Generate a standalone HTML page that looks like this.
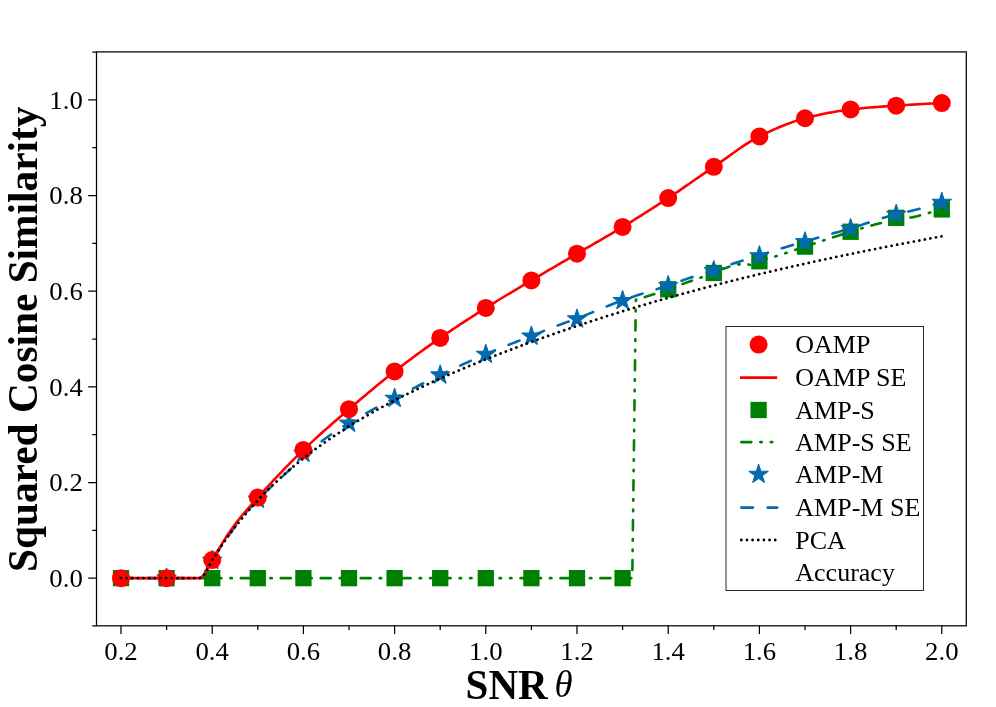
<!DOCTYPE html>
<html><head><meta charset="utf-8"><title>chart</title>
<style>html,body{margin:0;padding:0;background:#fff;overflow:hidden;}svg{display:block;position:absolute;left:0;top:0;will-change:transform;}text{font-family:"Liberation Serif",serif;fill:#000;}</style></head><body>
<svg width="996" height="707" viewBox="0 0 996 707">
<rect x="0" y="0" width="996" height="707" fill="#fff"/>
<defs><clipPath id="c"><rect x="96.5" y="51.9" width="869.8" height="573.9"/></clipPath></defs>
<g clip-path="url(#c)">
<rect x="112.85" y="570.00" width="16.3" height="16.3" fill="#008000"/>
<rect x="158.45" y="570.00" width="16.3" height="16.3" fill="#008000"/>
<rect x="204.05" y="570.00" width="16.3" height="16.3" fill="#008000"/>
<rect x="249.65" y="570.00" width="16.3" height="16.3" fill="#008000"/>
<rect x="295.25" y="570.00" width="16.3" height="16.3" fill="#008000"/>
<rect x="340.85" y="570.00" width="16.3" height="16.3" fill="#008000"/>
<rect x="386.45" y="570.00" width="16.3" height="16.3" fill="#008000"/>
<rect x="432.05" y="570.00" width="16.3" height="16.3" fill="#008000"/>
<rect x="477.65" y="570.00" width="16.3" height="16.3" fill="#008000"/>
<rect x="523.25" y="570.00" width="16.3" height="16.3" fill="#008000"/>
<rect x="568.85" y="570.00" width="16.3" height="16.3" fill="#008000"/>
<rect x="614.45" y="570.00" width="16.3" height="16.3" fill="#008000"/>
<rect x="660.05" y="281.14" width="16.3" height="16.3" fill="#008000"/>
<rect x="705.65" y="264.83" width="16.3" height="16.3" fill="#008000"/>
<rect x="751.25" y="253.11" width="16.3" height="16.3" fill="#008000"/>
<rect x="796.85" y="238.43" width="16.3" height="16.3" fill="#008000"/>
<rect x="842.45" y="223.60" width="16.3" height="16.3" fill="#008000"/>
<rect x="888.05" y="209.69" width="16.3" height="16.3" fill="#008000"/>
<rect x="933.65" y="201.27" width="16.3" height="16.3" fill="#008000"/>
<path d="M121.00,578.15 L632.27,578.15 L635.82,299.81 L637.36,299.36 L638.90,298.90 L640.44,298.44 L641.97,297.98 L643.51,297.51 L645.05,297.03 L646.59,296.55 L648.12,296.07 L649.66,295.58 L651.20,295.08 L652.74,294.58 L654.27,294.07 L655.81,293.56 L657.35,293.04 L658.89,292.52 L660.43,292.00 L661.96,291.47 L663.50,290.93 L665.04,290.40 L666.58,289.86 L668.11,289.32 L669.65,288.77 L671.19,288.22 L672.73,287.66 L674.26,287.09 L675.80,286.52 L677.34,285.95 L678.88,285.38 L680.41,284.80 L681.95,284.23 L683.49,283.66 L685.03,283.10 L686.56,282.54 L688.10,281.99 L689.64,281.45 L691.18,280.91 L692.71,280.39 L694.25,279.87 L695.79,279.35 L697.33,278.84 L698.86,278.32 L700.40,277.80 L701.94,277.28 L703.48,276.76 L705.01,276.23 L706.55,275.69 L708.09,275.14 L709.63,274.58 L711.16,274.00 L712.70,273.41 L714.24,272.80 L715.78,272.13 L717.32,271.41 L718.85,270.67 L720.39,269.97 L721.93,269.33 L723.47,268.77 L725.00,268.22 L726.54,267.66 L728.08,267.10 L729.62,266.55 L731.15,266.03 L732.69,265.55 L734.23,265.13 L735.77,264.79 L737.30,264.53 L738.84,264.37 L740.38,264.32 L741.92,264.32 L743.45,264.32 L744.99,264.32 L746.53,264.32 L748.07,264.32 L749.60,264.73 L751.14,265.95 L752.68,265.91 L754.22,265.08 L755.75,263.87 L757.29,262.57 L758.83,261.50 L760.37,260.82 L761.90,260.24 L763.44,259.72 L764.98,259.25 L766.52,258.82 L768.05,258.40 L769.59,258.00 L771.13,257.61 L772.67,257.20 L774.21,256.77 L775.74,256.31 L777.28,255.83 L778.82,255.34 L780.36,254.84 L781.89,254.34 L783.43,253.83 L784.97,253.33 L786.51,252.82 L788.04,252.31 L789.58,251.79 L791.12,251.27 L792.66,250.75 L794.19,250.23 L795.73,249.71 L797.27,249.18 L798.81,248.66 L800.34,248.14 L801.88,247.62 L803.42,247.11 L804.96,246.59 L806.49,246.08 L808.03,245.57 L809.57,245.06 L811.11,244.55 L812.64,244.04 L814.18,243.53 L815.72,243.02 L817.26,242.51 L818.79,242.00 L820.33,241.49 L821.87,240.98 L823.41,240.47 L824.94,239.97 L826.48,239.46 L828.02,238.96 L829.56,238.46 L831.10,237.95 L832.63,237.45 L834.17,236.95 L835.71,236.46 L837.25,235.96 L838.78,235.47 L840.32,234.98 L841.86,234.49 L843.40,234.00 L844.93,233.52 L846.47,233.04 L848.01,232.56 L849.55,232.08 L851.08,231.60 L852.62,231.13 L854.16,230.65 L855.70,230.17 L857.23,229.70 L858.77,229.22 L860.31,228.75 L861.85,228.28 L863.38,227.81 L864.92,227.35 L866.46,226.89 L868.00,226.44 L869.53,226.00 L871.07,225.57 L872.61,225.15 L874.15,224.74 L875.68,224.34 L877.22,223.95 L878.76,223.56 L880.30,223.18 L881.83,222.80 L883.37,222.43 L884.91,222.07 L886.45,221.72 L887.99,221.37 L889.52,221.04 L891.06,220.71 L892.60,220.39 L894.14,220.09 L895.67,219.80 L897.21,219.52 L898.75,219.27 L900.29,219.04 L901.82,218.81 L903.36,218.60 L904.90,218.39 L906.44,218.18 L907.97,217.95 L909.51,217.72 L911.05,217.47 L912.59,217.19 L914.12,216.88 L915.66,216.54 L917.20,216.15 L918.74,215.75 L920.27,215.32 L921.81,214.89 L923.35,214.45 L924.89,214.01 L926.42,213.60 L927.96,213.19 L929.50,212.80 L931.04,212.40 L932.57,212.00 L934.11,211.61 L935.65,211.22 L937.19,210.83 L938.72,210.44 L940.26,210.05 L941.80,209.66" fill="none" stroke="#008000" stroke-width="2.6" stroke-linecap="round" stroke-linejoin="round" stroke-dasharray="10 8.98 1.5 8.98 1.5 8.99"/>
<polygon points="166.60,567.95 168.89,575.00 176.30,575.00 170.31,579.35 172.60,586.40 166.60,582.05 160.60,586.40 162.89,579.35 156.90,575.00 164.31,575.00" fill="#036aae" stroke="#036aae" stroke-width="1.04" stroke-linejoin="bevel"/>
<polygon points="212.20,550.25 214.49,557.30 221.90,557.30 215.91,561.66 218.20,568.71 212.20,564.35 206.20,568.71 208.49,561.66 202.50,557.30 209.91,557.30" fill="#036aae" stroke="#036aae" stroke-width="1.04" stroke-linejoin="bevel"/>
<polygon points="257.80,489.04 260.09,496.09 267.50,496.09 261.51,500.44 263.80,507.49 257.80,503.13 251.80,507.49 254.09,500.44 248.10,496.09 255.51,496.09" fill="#036aae" stroke="#036aae" stroke-width="1.04" stroke-linejoin="bevel"/>
<polygon points="303.40,443.13 305.69,450.17 313.10,450.17 307.11,454.53 309.40,461.58 303.40,457.22 297.40,461.58 299.69,454.53 293.70,450.17 301.11,450.17" fill="#036aae" stroke="#036aae" stroke-width="1.04" stroke-linejoin="bevel"/>
<polygon points="349.00,413.09 351.29,420.14 358.70,420.14 352.71,424.50 355.00,431.54 349.00,427.19 343.00,431.54 345.29,424.50 339.30,420.14 346.71,420.14" fill="#036aae" stroke="#036aae" stroke-width="1.04" stroke-linejoin="bevel"/>
<polygon points="394.60,388.13 396.89,395.18 404.30,395.18 398.31,399.53 400.60,406.58 394.60,402.22 388.60,406.58 390.89,399.53 384.90,395.18 392.31,395.18" fill="#036aae" stroke="#036aae" stroke-width="1.04" stroke-linejoin="bevel"/>
<polygon points="440.20,364.84 442.49,371.89 449.90,371.89 443.91,376.24 446.20,383.29 440.20,378.93 434.20,383.29 436.49,376.24 430.50,371.89 437.91,371.89" fill="#036aae" stroke="#036aae" stroke-width="1.04" stroke-linejoin="bevel"/>
<polygon points="485.80,344.13 488.09,351.18 495.50,351.18 489.51,355.53 491.80,362.58 485.80,358.23 479.80,362.58 482.09,355.53 476.10,351.18 483.51,351.18" fill="#036aae" stroke="#036aae" stroke-width="1.04" stroke-linejoin="bevel"/>
<polygon points="531.40,326.00 533.69,333.05 541.10,333.05 535.11,337.41 537.40,344.46 531.40,340.10 525.40,344.46 527.69,337.41 521.70,333.05 529.11,333.05" fill="#036aae" stroke="#036aae" stroke-width="1.04" stroke-linejoin="bevel"/>
<polygon points="577.00,308.79 579.29,315.83 586.70,315.83 580.71,320.19 583.00,327.24 577.00,322.88 571.00,327.24 573.29,320.19 567.30,315.83 574.71,315.83" fill="#036aae" stroke="#036aae" stroke-width="1.04" stroke-linejoin="bevel"/>
<polygon points="622.60,290.37 624.89,297.42 632.30,297.42 626.31,301.78 628.60,308.83 622.60,304.47 616.60,308.83 618.89,301.78 612.90,297.42 620.31,297.42" fill="#036aae" stroke="#036aae" stroke-width="1.04" stroke-linejoin="bevel"/>
<polygon points="668.20,275.40 670.49,282.45 677.90,282.45 671.91,286.81 674.20,293.86 668.20,289.50 662.20,293.86 664.49,286.81 658.50,282.45 665.91,282.45" fill="#036aae" stroke="#036aae" stroke-width="1.04" stroke-linejoin="bevel"/>
<polygon points="713.80,260.44 716.09,267.48 723.50,267.48 717.51,271.84 719.80,278.89 713.80,274.53 707.80,278.89 710.09,271.84 704.10,267.48 711.51,267.48" fill="#036aae" stroke="#036aae" stroke-width="1.04" stroke-linejoin="bevel"/>
<polygon points="759.40,245.61 761.69,252.66 769.10,252.66 763.11,257.01 765.40,264.06 759.40,259.71 753.40,264.06 755.69,257.01 749.70,252.66 757.11,252.66" fill="#036aae" stroke="#036aae" stroke-width="1.04" stroke-linejoin="bevel"/>
<polygon points="805.00,231.64 807.29,238.69 814.70,238.69 808.71,243.05 811.00,250.10 805.00,245.74 799.00,250.10 801.29,243.05 795.30,238.69 802.71,238.69" fill="#036aae" stroke="#036aae" stroke-width="1.04" stroke-linejoin="bevel"/>
<polygon points="850.60,218.40 852.89,225.45 860.30,225.45 854.31,229.80 856.60,236.85 850.60,232.49 844.60,236.85 846.89,229.80 840.90,225.45 848.31,225.45" fill="#036aae" stroke="#036aae" stroke-width="1.04" stroke-linejoin="bevel"/>
<polygon points="896.20,204.24 898.49,211.29 905.90,211.29 899.91,215.64 902.20,222.69 896.20,218.34 890.20,222.69 892.49,215.64 886.50,211.29 893.91,211.29" fill="#036aae" stroke="#036aae" stroke-width="1.04" stroke-linejoin="bevel"/>
<polygon points="941.80,192.28 944.09,199.33 951.50,199.33 945.51,203.69 947.80,210.74 941.80,206.38 935.80,210.74 938.09,203.69 932.10,199.33 939.51,199.33" fill="#036aae" stroke="#036aae" stroke-width="1.04" stroke-linejoin="bevel"/>
<path d="M121.00,578.15 L199.43,578.15 L201.91,577.14 L204.40,574.34 L206.88,569.85 L209.36,565.38 L211.85,561.04 L214.33,557.00 L216.81,553.08 L219.29,549.26 L221.78,545.52 L224.26,541.87 L226.74,538.27 L229.23,534.74 L231.71,531.24 L234.19,527.76 L236.67,524.33 L239.16,520.98 L241.64,517.74 L244.12,514.64 L246.61,511.71 L249.09,508.93 L251.57,506.26 L254.05,503.68 L256.54,501.16 L259.02,498.68 L261.50,496.19 L263.99,493.74 L266.47,491.34 L268.95,488.97 L271.43,486.62 L273.92,484.29 L276.40,481.97 L278.88,479.67 L281.37,477.39 L283.85,475.13 L286.33,472.86 L288.81,470.55 L291.30,468.21 L293.78,465.85 L296.26,463.49 L298.75,461.16 L301.23,458.87 L303.71,456.64 L306.19,454.44 L308.68,452.24 L311.16,450.07 L313.64,447.93 L316.13,445.82 L318.61,443.76 L321.09,441.76 L323.57,439.83 L326.06,437.98 L328.54,436.20 L331.02,434.46 L333.51,432.77 L335.99,431.12 L338.47,429.51 L340.95,427.93 L343.44,426.37 L345.92,424.84 L348.40,423.32 L350.89,421.82 L353.37,420.36 L355.85,418.93 L358.33,417.52 L360.82,416.13 L363.30,414.76 L365.78,413.39 L368.26,412.03 L370.75,410.68 L373.23,409.33 L375.71,408.00 L378.20,406.67 L380.68,405.36 L383.16,404.05 L385.64,402.75 L388.13,401.45 L390.61,400.16 L393.09,398.87 L395.58,397.58 L398.06,396.29 L400.54,395.00 L403.02,393.71 L405.51,392.42 L407.99,391.13 L410.47,389.85 L412.96,388.57 L415.44,387.29 L417.92,386.02 L420.40,384.75 L422.89,383.48 L425.37,382.23 L427.85,380.98 L430.34,379.74 L432.82,378.50 L435.30,377.28 L437.78,376.07 L440.27,374.86 L442.75,373.67 L445.23,372.49 L447.72,371.33 L450.20,370.17 L452.68,369.03 L455.16,367.89 L457.65,366.75 L460.13,365.62 L462.61,364.49 L465.10,363.36 L467.58,362.23 L470.06,361.09 L472.54,359.96 L475.03,358.83 L477.51,357.72 L479.99,356.61 L482.48,355.52 L484.96,354.45 L487.44,353.40 L489.92,352.36 L492.41,351.33 L494.89,350.31 L497.37,349.30 L499.86,348.30 L502.34,347.31 L504.82,346.33 L507.30,345.35 L509.79,344.37 L512.27,343.40 L514.75,342.43 L517.24,341.46 L519.72,340.49 L522.20,339.53 L524.68,338.56 L527.17,337.58 L529.65,336.61 L532.13,335.63 L534.61,334.64 L537.10,333.65 L539.58,332.66 L542.06,331.67 L544.55,330.68 L547.03,329.70 L549.51,328.72 L551.99,327.74 L554.48,326.77 L556.96,325.81 L559.44,324.86 L561.93,323.92 L564.41,323.00 L566.89,322.10 L569.37,321.22 L571.86,320.34 L574.34,319.44 L576.82,318.53 L579.31,317.58 L581.79,316.62 L584.27,315.64 L586.75,314.64 L589.24,313.64 L591.72,312.62 L594.20,311.60 L596.69,310.57 L599.17,309.54 L601.65,308.51 L604.13,307.49 L606.62,306.47 L609.10,305.47 L611.58,304.47 L614.07,303.50 L616.55,302.54 L619.03,301.60 L621.51,300.68 L624.00,299.79 L626.48,298.92 L628.96,298.06 L631.45,297.22 L633.93,296.40 L636.41,295.59 L638.89,294.78 L641.38,293.99 L643.86,293.20 L646.34,292.41 L648.83,291.63 L651.31,290.84 L653.79,290.06 L656.27,289.27 L658.76,288.47 L661.24,287.67 L663.72,286.86 L666.21,286.04 L668.69,285.20 L671.17,284.35 L673.65,283.48 L676.14,282.60 L678.62,281.72 L681.10,280.85 L683.59,279.99 L686.07,279.14 L688.55,278.31 L691.03,277.50 L693.52,276.70 L696.00,275.91 L698.48,275.13 L700.96,274.35 L703.45,273.57 L705.93,272.79 L708.41,272.00 L710.90,271.20 L713.38,270.39 L715.86,269.57 L718.34,268.72 L720.83,267.87 L723.31,267.01 L725.79,266.15 L728.28,265.30 L730.76,264.44 L733.24,263.60 L735.72,262.77 L738.21,261.96 L740.69,261.16 L743.17,260.38 L745.66,259.60 L748.14,258.83 L750.62,258.06 L753.10,257.29 L755.59,256.52 L758.07,255.75 L760.55,254.97 L763.04,254.18 L765.52,253.39 L768.00,252.60 L770.48,251.81 L772.97,251.02 L775.45,250.23 L777.93,249.44 L780.42,248.67 L782.90,247.90 L785.38,247.14 L787.86,246.39 L790.35,245.66 L792.83,244.94 L795.31,244.23 L797.80,243.52 L800.28,242.81 L802.76,242.10 L805.24,241.39 L807.73,240.68 L810.21,239.96 L812.69,239.25 L815.18,238.55 L817.66,237.84 L820.14,237.13 L822.62,236.42 L825.11,235.71 L827.59,235.00 L830.07,234.29 L832.56,233.58 L835.04,232.87 L837.52,232.15 L840.00,231.43 L842.49,230.71 L844.97,229.98 L847.45,229.25 L849.94,228.51 L852.42,227.76 L854.90,227.00 L857.38,226.22 L859.87,225.43 L862.35,224.62 L864.83,223.82 L867.31,223.00 L869.80,222.19 L872.28,221.38 L874.76,220.57 L877.25,219.77 L879.73,218.98 L882.21,218.20 L884.69,217.44 L887.18,216.70 L889.66,215.98 L892.14,215.28 L894.63,214.61 L897.11,213.97 L899.59,213.38 L902.07,212.83 L904.56,212.29 L907.04,211.76 L909.52,211.22 L912.01,210.65 L914.49,210.04 L916.97,209.41 L919.45,208.76 L921.94,208.10 L924.42,207.42 L926.90,206.73 L929.39,206.02 L931.87,205.30 L934.35,204.56 L936.83,203.80 L939.32,203.03 L941.80,202.25" fill="none" stroke="#036aae" stroke-width="2.6" stroke-linecap="round" stroke-linejoin="round" stroke-dasharray="11.6 14.75"/>
<circle cx="121.00" cy="578.15" r="9.0" fill="#ff0000"/>
<circle cx="166.60" cy="578.15" r="9.0" fill="#ff0000"/>
<circle cx="212.20" cy="560.07" r="9.0" fill="#ff0000"/>
<circle cx="257.80" cy="497.56" r="9.0" fill="#ff0000"/>
<circle cx="303.40" cy="449.98" r="9.0" fill="#ff0000"/>
<circle cx="349.00" cy="409.18" r="9.0" fill="#ff0000"/>
<circle cx="394.60" cy="371.45" r="9.0" fill="#ff0000"/>
<circle cx="440.20" cy="337.93" r="9.0" fill="#ff0000"/>
<circle cx="485.80" cy="307.94" r="9.0" fill="#ff0000"/>
<circle cx="531.40" cy="280.39" r="9.0" fill="#ff0000"/>
<circle cx="577.00" cy="253.66" r="9.0" fill="#ff0000"/>
<circle cx="622.60" cy="226.97" r="9.0" fill="#ff0000"/>
<circle cx="668.20" cy="198.04" r="9.0" fill="#ff0000"/>
<circle cx="713.80" cy="166.81" r="9.0" fill="#ff0000"/>
<circle cx="759.40" cy="136.44" r="9.0" fill="#ff0000"/>
<circle cx="805.00" cy="118.26" r="9.0" fill="#ff0000"/>
<circle cx="850.60" cy="109.46" r="9.0" fill="#ff0000"/>
<circle cx="896.20" cy="105.64" r="9.0" fill="#ff0000"/>
<circle cx="941.80" cy="103.10" r="9.0" fill="#ff0000"/>
<path d="M121.00,578.15 L199.43,578.15 L201.91,577.14 L204.40,574.34 L206.88,569.80 L209.36,565.20 L211.85,560.68 L214.33,556.45 L216.81,552.27 L219.29,548.16 L221.78,544.11 L224.26,540.16 L226.74,536.32 L229.23,532.59 L231.71,528.99 L234.19,525.55 L236.67,522.25 L239.16,519.08 L241.64,516.01 L244.12,513.04 L246.61,510.15 L249.09,507.31 L251.57,504.51 L254.05,501.74 L256.54,498.97 L259.02,496.20 L261.50,493.45 L263.99,490.71 L266.47,488.00 L268.95,485.30 L271.43,482.62 L273.92,479.96 L276.40,477.32 L278.88,474.70 L281.37,472.10 L283.85,469.52 L286.33,466.96 L288.81,464.43 L291.30,461.91 L293.78,459.42 L296.26,456.95 L298.75,454.50 L301.23,452.08 L303.71,449.68 L306.19,447.30 L308.68,444.96 L311.16,442.63 L313.64,440.33 L316.13,438.05 L318.61,435.79 L321.09,433.55 L323.57,431.33 L326.06,429.12 L328.54,426.92 L331.02,424.74 L333.51,422.57 L335.99,420.41 L338.47,418.26 L340.95,416.11 L343.44,413.97 L345.92,411.83 L348.40,409.70 L350.89,407.56 L353.37,405.44 L355.85,403.31 L358.33,401.20 L360.82,399.09 L363.30,396.98 L365.78,394.89 L368.26,392.81 L370.75,390.73 L373.23,388.67 L375.71,386.61 L378.20,384.57 L380.68,382.55 L383.16,380.53 L385.64,378.53 L388.13,376.55 L390.61,374.58 L393.09,372.63 L395.58,370.69 L398.06,368.77 L400.54,366.86 L403.02,364.96 L405.51,363.08 L407.99,361.20 L410.47,359.34 L412.96,357.49 L415.44,355.65 L417.92,353.82 L420.40,352.01 L422.89,350.20 L425.37,348.41 L427.85,346.63 L430.34,344.86 L432.82,343.10 L435.30,341.35 L437.78,339.61 L440.27,337.88 L442.75,336.16 L445.23,334.46 L447.72,332.76 L450.20,331.08 L452.68,329.41 L455.16,327.75 L457.65,326.09 L460.13,324.45 L462.61,322.82 L465.10,321.19 L467.58,319.58 L470.06,317.97 L472.54,316.37 L475.03,314.78 L477.51,313.19 L479.99,311.61 L482.48,310.04 L484.96,308.47 L487.44,306.91 L489.92,305.36 L492.41,303.82 L494.89,302.29 L497.37,300.76 L499.86,299.25 L502.34,297.74 L504.82,296.24 L507.30,294.75 L509.79,293.26 L512.27,291.77 L514.75,290.29 L517.24,288.81 L519.72,287.33 L522.20,285.86 L524.68,284.38 L527.17,282.91 L529.65,281.43 L532.13,279.96 L534.61,278.48 L537.10,277.01 L539.58,275.55 L542.06,274.08 L544.55,272.62 L547.03,271.17 L549.51,269.71 L551.99,268.26 L554.48,266.81 L556.96,265.36 L559.44,263.91 L561.93,262.46 L564.41,261.01 L566.89,259.57 L569.37,258.12 L571.86,256.67 L574.34,255.21 L576.82,253.76 L579.31,252.31 L581.79,250.86 L584.27,249.42 L586.75,247.98 L589.24,246.55 L591.72,245.12 L594.20,243.68 L596.69,242.25 L599.17,240.81 L601.65,239.37 L604.13,237.93 L606.62,236.48 L609.10,235.03 L611.58,233.57 L614.07,232.10 L616.55,230.62 L619.03,229.13 L621.51,227.63 L624.00,226.12 L626.48,224.60 L628.96,223.07 L631.45,221.54 L633.93,220.00 L636.41,218.45 L638.89,216.90 L641.38,215.33 L643.86,213.76 L646.34,212.19 L648.83,210.61 L651.31,209.02 L653.79,207.42 L656.27,205.82 L658.76,204.21 L661.24,202.60 L663.72,200.98 L666.21,199.35 L668.69,197.72 L671.17,196.07 L673.65,194.41 L676.14,192.73 L678.62,191.05 L681.10,189.35 L683.59,187.64 L686.07,185.93 L688.55,184.21 L691.03,182.49 L693.52,180.77 L696.00,179.05 L698.48,177.32 L700.96,175.60 L703.45,173.89 L705.93,172.17 L708.41,170.47 L710.90,168.78 L713.38,167.09 L715.86,165.40 L718.34,163.68 L720.83,161.93 L723.31,160.16 L725.79,158.37 L728.28,156.58 L730.76,154.79 L733.24,153.00 L735.72,151.23 L738.21,149.49 L740.69,147.77 L743.17,146.08 L745.66,144.44 L748.14,142.85 L750.62,141.31 L753.10,139.84 L755.59,138.44 L758.07,137.11 L760.55,135.87 L763.04,134.64 L765.52,133.44 L768.00,132.26 L770.48,131.10 L772.97,129.97 L775.45,128.86 L777.93,127.78 L780.42,126.73 L782.90,125.71 L785.38,124.72 L787.86,123.77 L790.35,122.85 L792.83,121.97 L795.31,121.13 L797.80,120.33 L800.28,119.58 L802.76,118.87 L805.24,118.20 L807.73,117.57 L810.21,116.95 L812.69,116.34 L815.18,115.76 L817.66,115.19 L820.14,114.63 L822.62,114.10 L825.11,113.59 L827.59,113.09 L830.07,112.61 L832.56,112.16 L835.04,111.72 L837.52,111.30 L840.00,110.91 L842.49,110.53 L844.97,110.18 L847.45,109.85 L849.94,109.54 L852.42,109.26 L854.90,108.98 L857.38,108.72 L859.87,108.47 L862.35,108.23 L864.83,108.00 L867.31,107.77 L869.80,107.56 L872.28,107.36 L874.76,107.16 L877.25,106.97 L879.73,106.78 L882.21,106.60 L884.69,106.42 L887.18,106.25 L889.66,106.08 L892.14,105.91 L894.63,105.74 L897.11,105.58 L899.59,105.41 L902.07,105.25 L904.56,105.09 L907.04,104.94 L909.52,104.78 L912.01,104.63 L914.49,104.49 L916.97,104.34 L919.45,104.20 L921.94,104.06 L924.42,103.93 L926.90,103.80 L929.39,103.67 L931.87,103.55 L934.35,103.43 L936.83,103.32 L939.32,103.21 L941.80,103.10" fill="none" stroke="#ff0000" stroke-width="2.6" stroke-linecap="butt" stroke-linejoin="round"/>
<path d="M121.00,578.15 L199.43,578.15 L201.91,577.14 L204.40,574.34 L206.88,569.85 L209.36,565.38 L211.85,561.04 L214.33,556.99 L216.81,553.05 L219.29,549.19 L221.78,545.43 L224.26,541.76 L226.74,538.18 L229.23,534.69 L231.71,531.30 L234.19,528.05 L236.67,524.92 L239.16,521.85 L241.64,518.81 L244.12,515.83 L246.61,512.91 L249.09,510.04 L251.57,507.22 L254.05,504.45 L256.54,501.74 L259.02,499.07 L261.50,496.45 L263.99,493.88 L266.47,491.35 L268.95,488.87 L271.43,486.43 L273.92,484.03 L276.40,481.67 L278.88,479.36 L281.37,477.08 L283.85,474.83 L286.33,472.63 L288.81,470.46 L291.30,468.32 L293.78,466.22 L296.26,464.15 L298.75,462.11 L301.23,460.10 L303.71,458.12 L306.19,456.17 L308.68,454.25 L311.16,452.36 L313.64,450.49 L316.13,448.65 L318.61,446.83 L321.09,445.04 L323.57,443.27 L326.06,441.52 L328.54,439.80 L331.02,438.10 L333.51,436.41 L335.99,434.75 L338.47,433.11 L340.95,431.49 L343.44,429.89 L345.92,428.30 L348.40,426.74 L350.89,425.19 L353.37,423.66 L355.85,422.14 L358.33,420.64 L360.82,419.16 L363.30,417.69 L365.78,416.24 L368.26,414.81 L370.75,413.38 L373.23,411.98 L375.71,410.58 L378.20,409.20 L380.68,407.84 L383.16,406.49 L385.64,405.15 L388.13,403.82 L390.61,402.51 L393.09,401.21 L395.58,399.92 L398.06,398.64 L400.54,397.37 L403.02,396.12 L405.51,394.87 L407.99,393.64 L410.47,392.42 L412.96,391.20 L415.44,390.00 L417.92,388.81 L420.40,387.63 L422.89,386.45 L425.37,385.29 L427.85,384.13 L430.34,382.99 L432.82,381.85 L435.30,380.72 L437.78,379.60 L440.27,378.49 L442.75,377.38 L445.23,376.28 L447.72,375.19 L450.20,374.11 L452.68,373.04 L455.16,371.97 L457.65,370.91 L460.13,369.85 L462.61,368.80 L465.10,367.76 L467.58,366.72 L470.06,365.70 L472.54,364.67 L475.03,363.65 L477.51,362.64 L479.99,361.64 L482.48,360.64 L484.96,359.64 L487.44,358.65 L489.92,357.67 L492.41,356.69 L494.89,355.71 L497.37,354.74 L499.86,353.78 L502.34,352.82 L504.82,351.87 L507.30,350.92 L509.79,349.97 L512.27,349.03 L514.75,348.09 L517.24,347.16 L519.72,346.23 L522.20,345.31 L524.68,344.39 L527.17,343.47 L529.65,342.56 L532.13,341.65 L534.61,340.75 L537.10,339.85 L539.58,338.96 L542.06,338.07 L544.55,337.18 L547.03,336.30 L549.51,335.42 L551.99,334.54 L554.48,333.67 L556.96,332.81 L559.44,331.94 L561.93,331.09 L564.41,330.23 L566.89,329.38 L569.37,328.53 L571.86,327.69 L574.34,326.85 L576.82,326.01 L579.31,325.18 L581.79,324.36 L584.27,323.53 L586.75,322.71 L589.24,321.89 L591.72,321.08 L594.20,320.27 L596.69,319.47 L599.17,318.67 L601.65,317.87 L604.13,317.08 L606.62,316.29 L609.10,315.50 L611.58,314.72 L614.07,313.94 L616.55,313.16 L619.03,312.39 L621.51,311.62 L624.00,310.86 L626.48,310.10 L628.96,309.34 L631.45,308.59 L633.93,307.83 L636.41,307.09 L638.89,306.34 L641.38,305.60 L643.86,304.87 L646.34,304.14 L648.83,303.41 L651.31,302.68 L653.79,301.96 L656.27,301.24 L658.76,300.52 L661.24,299.81 L663.72,299.10 L666.21,298.39 L668.69,297.69 L671.17,296.99 L673.65,296.30 L676.14,295.60 L678.62,294.91 L681.10,294.23 L683.59,293.54 L686.07,292.86 L688.55,292.19 L691.03,291.51 L693.52,290.84 L696.00,290.18 L698.48,289.51 L700.96,288.85 L703.45,288.19 L705.93,287.54 L708.41,286.89 L710.90,286.24 L713.38,285.59 L715.86,284.95 L718.34,284.31 L720.83,283.67 L723.31,283.04 L725.79,282.40 L728.28,281.78 L730.76,281.15 L733.24,280.53 L735.72,279.91 L738.21,279.29 L740.69,278.68 L743.17,278.07 L745.66,277.46 L748.14,276.85 L750.62,276.25 L753.10,275.65 L755.59,275.05 L758.07,274.45 L760.55,273.86 L763.04,273.27 L765.52,272.69 L768.00,272.10 L770.48,271.52 L772.97,270.94 L775.45,270.36 L777.93,269.79 L780.42,269.22 L782.90,268.65 L785.38,268.08 L787.86,267.51 L790.35,266.95 L792.83,266.39 L795.31,265.83 L797.80,265.28 L800.28,264.73 L802.76,264.18 L805.24,263.63 L807.73,263.08 L810.21,262.54 L812.69,262.00 L815.18,261.46 L817.66,260.92 L820.14,260.39 L822.62,259.85 L825.11,259.32 L827.59,258.79 L830.07,258.27 L832.56,257.74 L835.04,257.22 L837.52,256.70 L840.00,256.18 L842.49,255.66 L844.97,255.15 L847.45,254.64 L849.94,254.13 L852.42,253.62 L854.90,253.11 L857.38,252.61 L859.87,252.10 L862.35,251.60 L864.83,251.10 L867.31,250.60 L869.80,250.11 L872.28,249.61 L874.76,249.12 L877.25,248.63 L879.73,248.14 L882.21,247.65 L884.69,247.16 L887.18,246.68 L889.66,246.20 L892.14,245.71 L894.63,245.23 L897.11,244.75 L899.59,244.28 L902.07,243.80 L904.56,243.33 L907.04,242.85 L909.52,242.38 L912.01,241.91 L914.49,241.44 L916.97,240.97 L919.45,240.51 L921.94,240.04 L924.42,239.58 L926.90,239.11 L929.39,238.65 L931.87,238.19 L934.35,237.73 L936.83,237.27 L939.32,236.81 L941.80,236.36" fill="none" stroke="#000000" stroke-width="2.8" stroke-linecap="round" stroke-linejoin="round" stroke-dasharray="0.01 5.6311"/>
</g>
<rect x="96.5" y="51.9" width="869.8" height="573.9" fill="none" stroke="#000" stroke-width="1.25"/>
<path d="M121.00,625.8 v8.3 M212.20,625.8 v8.3 M303.40,625.8 v8.3 M394.60,625.8 v8.3 M485.80,625.8 v8.3 M577.00,625.8 v8.3 M668.20,625.8 v8.3 M759.40,625.8 v8.3 M850.60,625.8 v8.3 M941.80,625.8 v8.3 M166.60,625.8 v4.2 M257.80,625.8 v4.2 M349.00,625.8 v4.2 M440.20,625.8 v4.2 M531.40,625.8 v4.2 M622.60,625.8 v4.2 M713.80,625.8 v4.2 M805.00,625.8 v4.2 M896.20,625.8 v4.2 M96.5,578.15 h-8.3 M96.5,482.50 h-8.3 M96.5,386.85 h-8.3 M96.5,291.20 h-8.3 M96.5,195.55 h-8.3 M96.5,99.90 h-8.3 M96.5,625.98 h-4.2 M96.5,530.32 h-4.2 M96.5,434.67 h-4.2 M96.5,339.02 h-4.2 M96.5,243.37 h-4.2 M96.5,147.72 h-4.2 M96.5,52.07 h-4.2" stroke="#000" stroke-width="1.25" fill="none"/>
<text transform="translate(121.00,660.00) scale(1.03,1.0)" font-size="26" text-anchor="middle" >0.2</text>
<text transform="translate(212.20,660.00) scale(1.03,1.0)" font-size="26" text-anchor="middle" >0.4</text>
<text transform="translate(303.40,660.00) scale(1.03,1.0)" font-size="26" text-anchor="middle" >0.6</text>
<text transform="translate(394.60,660.00) scale(1.03,1.0)" font-size="26" text-anchor="middle" >0.8</text>
<text transform="translate(485.80,660.00) scale(1.03,1.0)" font-size="26" text-anchor="middle" >1.0</text>
<text transform="translate(577.00,660.00) scale(1.03,1.0)" font-size="26" text-anchor="middle" >1.2</text>
<text transform="translate(668.20,660.00) scale(1.03,1.0)" font-size="26" text-anchor="middle" >1.4</text>
<text transform="translate(759.40,660.00) scale(1.03,1.0)" font-size="26" text-anchor="middle" >1.6</text>
<text transform="translate(850.60,660.00) scale(1.03,1.0)" font-size="26" text-anchor="middle" >1.8</text>
<text transform="translate(941.80,660.00) scale(1.03,1.0)" font-size="26" text-anchor="middle" >2.0</text>
<text transform="translate(82.80,586.85) scale(1.03,1.0)" font-size="26" text-anchor="end" >0.0</text>
<text transform="translate(82.80,491.20) scale(1.03,1.0)" font-size="26" text-anchor="end" >0.2</text>
<text transform="translate(82.80,395.55) scale(1.03,1.0)" font-size="26" text-anchor="end" >0.4</text>
<text transform="translate(82.80,299.90) scale(1.03,1.0)" font-size="26" text-anchor="end" >0.6</text>
<text transform="translate(82.80,204.25) scale(1.03,1.0)" font-size="26" text-anchor="end" >0.8</text>
<text transform="translate(82.80,108.60) scale(1.03,1.0)" font-size="26" text-anchor="end" >1.0</text>
<text transform="translate(465.60,699.00) scale(0.985,1.0)" font-size="41.67" text-anchor="start" font-weight="bold">SNR</text>
<text transform="translate(554.60,696.50) scale(0.96,1.0)" font-size="38.3" text-anchor="start" font-style="italic">θ</text>
<text transform="translate(37.00,339.30) rotate(-90) scale(0.992,1.0)" font-size="41.67" text-anchor="middle" font-weight="bold">Squared Cosine Similarity</text>
<rect x="726.0" y="326.5" width="197.5" height="264.0" fill="#fff" stroke="#2a2a2a" stroke-width="1"/>
<text transform="translate(795.30,353.30)" font-size="26" text-anchor="start" >OAMP</text>
<text transform="translate(795.30,386.30)" font-size="26" text-anchor="start" >OAMP SE</text>
<text transform="translate(795.30,418.70)" font-size="26" text-anchor="start" >AMP-S</text>
<text transform="translate(795.30,450.80)" font-size="26" text-anchor="start" >AMP-S SE</text>
<text transform="translate(795.30,483.10)" font-size="26" text-anchor="start" >AMP-M</text>
<text transform="translate(795.30,516.30)" font-size="26" text-anchor="start" >AMP-M SE</text>
<text transform="translate(795.30,548.70)" font-size="26" text-anchor="start" >PCA</text>
<text transform="translate(795.30,581.10)" font-size="26" text-anchor="start" >Accuracy</text>
<circle cx="758.6" cy="344.6" r="9.0" fill="#ff0000"/>
<path d="M740.0,377.6 H777.2" stroke="#ff0000" stroke-width="2.6"/>
<rect x="750.45" y="401.85" width="16.3" height="16.3" fill="#008000"/>
<path d="M741.3,442.1 H777.2" stroke="#008000" stroke-width="2.6" stroke-linecap="round" stroke-dasharray="10 8.98 1.5 8.98 1.5 8.99"/>
<polygon points="758.60,464.20 760.89,471.25 768.30,471.25 762.31,475.60 764.60,482.65 758.60,478.30 752.60,482.65 754.89,475.60 748.90,471.25 756.31,471.25" fill="#036aae" stroke="#036aae" stroke-width="1.04" stroke-linejoin="bevel"/>
<path d="M741.3,507.6 H777.2" stroke="#036aae" stroke-width="2.6" stroke-linecap="round" stroke-dasharray="11.6 14.75"/>
<path d="M741.3,540.0 H777.2" stroke="#000000" stroke-width="2.8" stroke-linecap="round" stroke-dasharray="0.01 5.64"/>
</svg></body></html>
